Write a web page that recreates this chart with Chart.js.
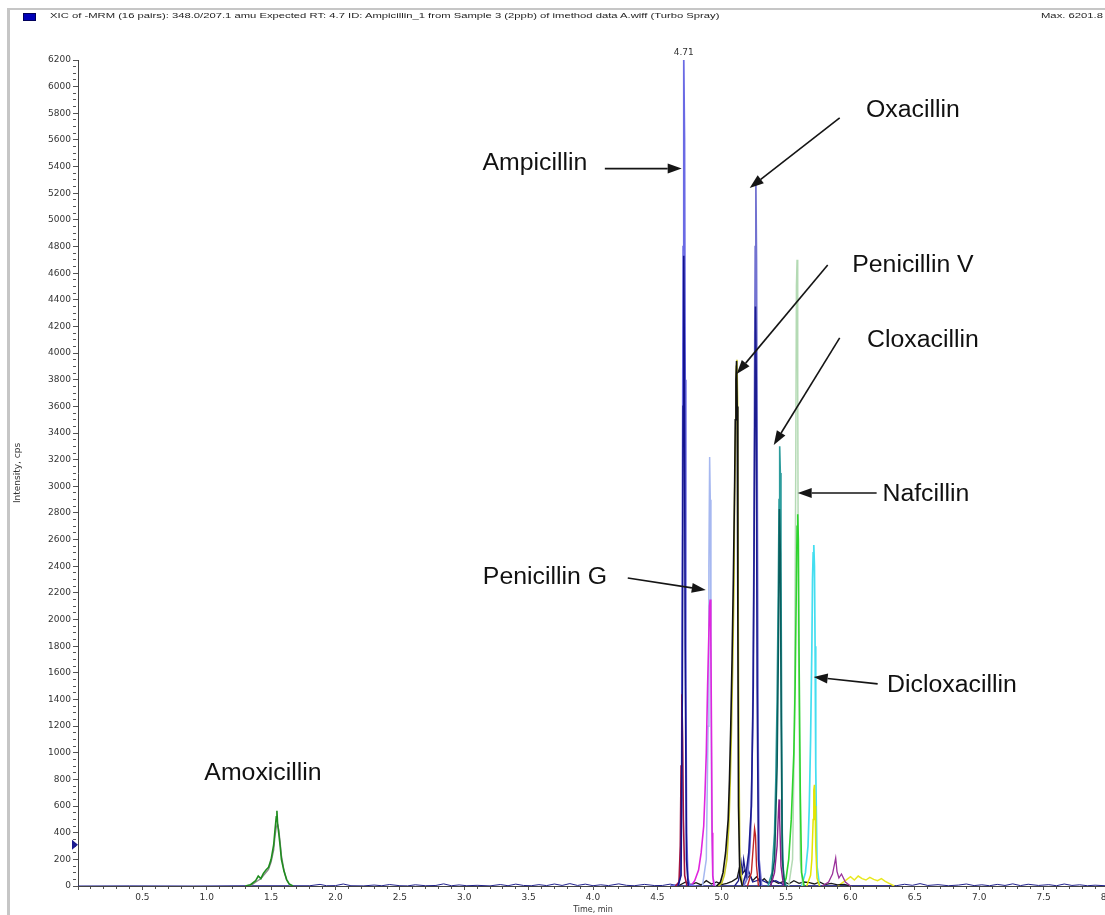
<!DOCTYPE html>
<html>
<head>
<meta charset="utf-8">
<script src="https://cdn.jsdelivr.net/npm/chart.js@4"></script>
<style>
  html, body { margin: 0; padding: 0; background: #fff; overflow: hidden; width: 1105px; height: 915px; }
  #wrap { position: relative; width: 1105px; height: 915px; overflow: hidden; }
  #chart { position: absolute; left: 0; top: 0; }
  .frameTop { position: absolute; left: 7px; top: 8px; width: 1098px; height: 2px; background: #c6c6c6; }
  .frameLeft { position: absolute; left: 7px; top: 8px; width: 3px; height: 907px; background: #c6c6c6; }
  .legendBox { position: absolute; left: 23px; top: 13px; width: 11px; height: 6px; background: #0000b8; border: 1px solid #00005a; }
  .head { position: absolute; top: 11px; font: 7.5px "Liberation Sans", Arial, sans-serif; color: #222; white-space: nowrap; transform: scaleX(1.5); transform-origin: left top; }
</style>
</head>
<body>
<div id="wrap">
  <canvas id="chart" width="1120" height="915"></canvas>
  <div class="frameTop"></div>
  <div class="frameLeft"></div>
  <div class="legendBox"></div>
  <div class="head" style="left:50px">XIC of -MRM (16 pairs): 348.0/207.1 amu Expected RT: 4.7 ID: Ampicillin_1 from Sample 3 (2ppb) of imethod data A.wiff (Turbo Spray)</div>
  <div class="head" style="left:1041px">Max. 6201.8 cps.</div>
</div>
<script>
// axis ranges
var xMin = 0, xMax = 8.0;
var yMin = 0, yMax = 6200;
var apexTime = 4.705;
var apexLabel = '4.71';
var markerValue = 310;

// --- traces (time in min, intensity in cps) ---
// Amoxicillin
var amoxGreenT = [1.30, 1.34, 1.38, 1.40, 1.42, 1.44, 1.46, 1.48, 1.50, 1.52, 1.53, 1.54, 1.545, 1.55, 1.56, 1.57, 1.58, 1.60, 1.62, 1.64, 1.67];
var amoxGreenY = [0, 10, 40, 75, 55, 95, 120, 140, 200, 310, 420, 520, 565, 470, 390, 300, 200, 110, 50, 15, 0];
var amoxGreyT = [1.30, 1.35, 1.39, 1.42, 1.45, 1.48, 1.50, 1.52, 1.53, 1.54, 1.55, 1.56, 1.57, 1.58, 1.60, 1.62, 1.65];
var amoxGreyY = [0, 8, 35, 55, 90, 125, 180, 270, 370, 440, 470, 420, 330, 230, 120, 45, 0];

// Ampicillin
var ampBlueT = [4.60, 4.665, 4.678, 4.688, 4.694, 4.700, 4.705, 4.711, 4.716, 4.721, 4.727, 4.737, 4.75, 4.80];
var ampBlueY = [0, 10, 80, 700, 2500, 4800, 6202, 5600, 3800, 1500, 400, 60, 10, 0];
var ampNavyT = [4.66, 4.684, 4.694, 4.700, 4.705, 4.710, 4.716, 4.726, 4.74];
var ampNavyY = [0, 80, 1500, 3600, 4730, 3900, 1800, 200, 0];
var ampRedT = [4.64, 4.668, 4.678, 4.684, 4.690, 4.696, 4.702, 4.712, 4.73];
var ampRedY = [0, 30, 300, 900, 1440, 1100, 500, 80, 0];

// Penicillin G
var penGMagT = [4.76, 4.79, 4.82, 4.84, 4.86, 4.87, 4.88, 4.89, 4.90, 4.905, 4.91, 4.915, 4.92, 4.925, 4.93, 4.94];
var penGMagY = [0, 40, 120, 250, 450, 700, 1000, 1500, 1900, 2100, 2150, 1900, 1200, 400, 80, 0];
var penGLightT = [4.85, 4.88, 4.894, 4.90, 4.906, 4.911, 4.916, 4.922, 4.932, 4.95];
var penGLightY = [0, 200, 1200, 2400, 3220, 2900, 1600, 500, 60, 0];

// Penicillin V
var penVBlackT = [4.96, 4.99, 5.01, 5.03, 5.05, 5.06, 5.07, 5.08, 5.09, 5.10, 5.105, 5.11, 5.115, 5.12, 5.125, 5.13, 5.14, 5.16];
var penVBlackY = [0, 30, 100, 250, 500, 800, 1200, 1700, 2300, 3000, 3500, 3800, 3940, 3600, 2000, 600, 80, 0];
var penVOliveT = [4.97, 5.00, 5.02, 5.04, 5.055, 5.065, 5.075, 5.085, 5.095, 5.10, 5.108, 5.113, 5.118, 5.123, 5.13, 5.14, 5.16];
var penVOliveY = [0, 20, 80, 200, 450, 750, 1150, 1650, 2250, 2950, 3450, 3900, 3950, 3650, 1500, 200, 0];

// Oxacillin
var oxaBlueT = [5.17, 5.20, 5.22, 5.23, 5.24, 5.25, 5.255, 5.26, 5.265, 5.27, 5.276, 5.282, 5.29, 5.31];
var oxaBlueY = [0, 60, 300, 600, 1200, 2500, 3800, 4800, 5285, 4700, 3000, 1200, 200, 0];
var oxaNavyT = [5.16, 5.19, 5.21, 5.23, 5.245, 5.255, 5.262, 5.268, 5.275, 5.285, 5.30];
var oxaNavyY = [0, 100, 250, 600, 1500, 3200, 4350, 3800, 1500, 200, 0];
var oxaRedT = [5.20, 5.23, 5.245, 5.255, 5.262, 5.27, 5.285];
var oxaRedY = [0, 100, 300, 430, 380, 150, 0];

// Cloxacillin
var cloxTealT = [5.36, 5.39, 5.41, 5.42, 5.43, 5.44, 5.445, 5.45, 5.455, 5.46, 5.465, 5.47, 5.48, 5.50];
var cloxTealY = [0, 100, 400, 800, 1400, 2300, 2900, 3300, 3100, 2400, 1300, 400, 60, 0];
var cloxDarkT = [5.38, 5.41, 5.43, 5.44, 5.448, 5.455, 5.462, 5.47, 5.49];
var cloxDarkY = [0, 200, 900, 1800, 2830, 2500, 1200, 200, 0];
var cloxPurpleT = [5.38, 5.41, 5.43, 5.44, 5.445, 5.45, 5.46, 5.48];
var cloxPurpleY = [0, 100, 300, 550, 650, 500, 150, 0];

// Nafcillin
var nafPaleT = [5.52, 5.55, 5.565, 5.575, 5.58, 5.585, 5.59, 5.595, 5.61, 5.63];
var nafPaleY = [0, 200, 1200, 3200, 4500, 4700, 3800, 2000, 200, 0];
var nafGreenT = [5.48, 5.50, 5.52, 5.54, 5.56, 5.57, 5.58, 5.585, 5.59, 5.595, 5.60, 5.61, 5.62, 5.64];
var nafGreenY = [0, 60, 200, 500, 1000, 1500, 2300, 2700, 2790, 2600, 1800, 700, 100, 0];

// Dicloxacillin
var dicloCyanT = [5.62, 5.65, 5.67, 5.68, 5.69, 5.70, 5.705, 5.71, 5.715, 5.72, 5.725, 5.73, 5.74, 5.76];
var dicloCyanY = [0, 100, 300, 600, 1100, 1800, 2300, 2500, 2560, 2400, 1800, 900, 150, 0];
var dicloYellowT = [5.66, 5.69, 5.70, 5.71, 5.715, 5.72, 5.725, 5.73, 5.74, 5.76];
var dicloYellowY = [0, 80, 200, 500, 720, 760, 600, 300, 60, 0];

// small stuff around the late peaks
var clutBlackT = [4.66, 4.72, 4.76, 4.80, 4.84, 4.88, 4.92, 4.96, 5.00, 5.04, 5.08, 5.12, 5.14, 5.16, 5.18, 5.20, 5.22, 5.24, 5.27, 5.30, 5.33, 5.36, 5.40, 5.44, 5.48, 5.52, 5.56, 5.60, 5.64, 5.68, 5.72, 5.76, 5.80, 5.85, 5.90, 5.95, 6.00];
var clutBlackY = [0, 30, 10, 25, 8, 40, 15, 30, 10, 20, 35, 60, 150, 90, 120, 60, 80, 40, 70, 30, 55, 25, 40, 20, 35, 15, 40, 20, 30, 25, 15, 30, 10, 20, 8, 12, 0];
var clutNavyT = [5.10, 5.13, 5.15, 5.16, 5.17, 5.19, 5.21, 5.24, 5.30, 5.36, 5.42, 5.50];
var clutNavyY = [0, 40, 180, 90, 200, 60, 110, 30, 50, 20, 40, 0];
var clutPurpleT = [5.78, 5.83, 5.86, 5.875, 5.885, 5.895, 5.91, 5.93, 5.96, 6.00];
var clutPurpleY = [0, 30, 90, 160, 210, 110, 60, 90, 30, 0];
var clutYellowT = [5.90, 5.96, 6.00, 6.03, 6.06, 6.09, 6.12, 6.15, 6.18, 6.21, 6.24, 6.27, 6.30, 6.34];
var clutYellowY = [0, 40, 70, 45, 75, 55, 45, 65, 50, 40, 55, 35, 20, 0];

// baseline noise
var noiseT = [0.00, 0.40, 0.90, 1.30, 1.80, 1.88, 1.93, 2.00, 2.06, 2.12, 2.22, 2.30, 2.36, 2.42, 2.50, 2.56, 2.62, 2.70, 2.78, 2.84,
  2.90, 2.96, 3.02, 3.10, 3.20, 3.28, 3.34, 3.40, 3.46, 3.52, 3.58, 3.64, 3.70, 3.76, 3.82, 3.88, 3.94, 4.00, 4.06, 4.12,
  4.20, 4.26, 4.32, 4.40, 4.48, 4.54, 4.60, 4.66, 6.36, 6.42, 6.48, 6.54, 6.60, 6.68, 6.76, 6.84, 6.90, 6.96, 7.02, 7.08,
  7.14, 7.20, 7.26, 7.32, 7.38, 7.46, 7.54, 7.60, 7.66, 7.72, 7.78, 7.84, 7.90, 8.00];
var noiseY = [0, 1, 0, 2, 2, 12, 2, 3, 15, 2, 1, 7, 2, 11, 2, 1, 9, 2, 4, 16,
  2, 8, 2, 5, 1, 11, 2, 14, 4, 2, 10, 3, 15, 4, 18, 4, 14, 2, 9, 3,
  16, 5, 2, 12, 3, 4, 14, 2, 3, 13, 5, 18, 4, 10, 2, 7, 15, 3, 9, 2,
  12, 4, 16, 3, 13, 4, 10, 2, 15, 4, 9, 2, 6, 1];

// --- annotations (data coordinates) ---
var noteText = ['Ampicillin', 'Oxacillin', 'Penicillin V', 'Cloxacillin', 'Nafcillin', 'Penicillin G', 'Dicloxacillin', 'Amoxicillin'];
var noteT = [3.549, 6.485, 6.485, 6.563, 6.586, 3.627, 6.788, 1.437];
var noteI = [5375, 5773, 4610, 4047, 2890, 2267, 1456, 796];
var arrowFromT = [4.092, 5.916, 5.823, 5.916, 6.203, 4.270, 6.211];
var arrowFromI = [5385, 5766, 4662, 4114, 2950, 2312, 1517];
var arrowToT = [4.689, 5.217, 5.116, 5.404, 5.590, 4.876, 5.714];
var arrowToI = [5385, 5240, 3844, 3311, 2950, 2222, 1569];

function pts(ts, ys) {
    var out = [];
    for (var k = 0; k < ts.length && k < ys.length; k++) {
        out.push({ x: ts[k], y: ys[k] });
    }
    return out;
}

// first in list is drawn on top: [times, values, colour, line width]
var traces = [
    [ampNavyT, ampNavyY, '#14148e', 1.6],
    [ampRedT, ampRedY, '#a3123f', 1.6],
    [ampBlueT, ampBlueY, '#6a6ae4', 1.7],
    [penGMagT, penGMagY, '#e026de', 1.6],
    [penGLightT, penGLightY, '#a6b8f0', 1.5],
    [penVBlackT, penVBlackY, '#111111', 1.6],
    [penVOliveT, penVOliveY, '#c8c828', 1.6],
    [oxaNavyT, oxaNavyY, '#1c1c90', 1.6],
    [oxaRedT, oxaRedY, '#c02424', 1.4],
    [oxaBlueT, oxaBlueY, '#7272d0', 1.7],
    [cloxPurpleT, cloxPurpleY, '#8c1e8c', 1.4],
    [cloxDarkT, cloxDarkY, '#0a5e5e', 1.6],
    [cloxTealT, cloxTealY, '#2c9c9c', 1.6],
    [nafGreenT, nafGreenY, '#2ed42e', 1.6],
    [nafPaleT, nafPaleY, '#b4dab4', 1.5],
    [dicloYellowT, dicloYellowY, '#e4e400', 1.5],
    [dicloCyanT, dicloCyanY, '#44def0', 1.7],
    [clutNavyT, clutNavyY, '#1a1a8a', 1.3],
    [clutPurpleT, clutPurpleY, '#9a309a', 1.3],
    [clutBlackT, clutBlackY, '#1a1a1a', 1.3],
    [clutYellowT, clutYellowY, '#e8e820', 1.5],
    [amoxGreenT, amoxGreenY, '#1f8c1f', 1.6],
    [amoxGreyT, amoxGreyY, '#8a8a8a', 1.3],
    [noiseT, noiseY, '#22228e', 1]
];

var datasets = traces.map(function (tr) {
    return {
        data: pts(tr[0], tr[1]),
        showLine: true,
        borderColor: tr[2],
        backgroundColor: tr[2],
        borderWidth: tr[3],
        pointRadius: 0,
        tension: 0
    };
});

function drawArrow(ctx, x1, y1, x2, y2) {
    var a = Math.atan2(y2 - y1, x2 - x1);
    var len = 14, half = 5;
    var bx = x2 - len * Math.cos(a), by = y2 - len * Math.sin(a);
    ctx.beginPath();
    ctx.moveTo(x1, y1);
    ctx.lineTo(bx, by);
    ctx.stroke();
    ctx.beginPath();
    ctx.moveTo(x2, y2);
    ctx.lineTo(bx + half * Math.sin(a), by - half * Math.cos(a));
    ctx.lineTo(bx - half * Math.sin(a), by + half * Math.cos(a));
    ctx.closePath();
    ctx.fill();
}

var notes = {
    id: 'notes',
    afterDraw: function (chart) {
        var ctx = chart.ctx, xs = chart.scales.x, ys = chart.scales.y;
        ctx.save();
        // labels
        ctx.fillStyle = '#111';
        ctx.font = '23px "Liberation Sans", Arial, sans-serif';
        ctx.textAlign = 'center';
        ctx.textBaseline = 'alphabetic';
        noteText.forEach(function (txt, k) {
            ctx.save();
            ctx.translate(xs.getPixelForValue(noteT[k]), ys.getPixelForValue(noteI[k]));
            ctx.scale(1.08, 1);
            ctx.fillText(txt, 0, 0);
            ctx.restore();
        });
        // arrows
        ctx.strokeStyle = '#151515';
        ctx.fillStyle = '#151515';
        ctx.lineWidth = 1.6;
        arrowFromT.forEach(function (t, k) {
            drawArrow(ctx,
                xs.getPixelForValue(t), ys.getPixelForValue(arrowFromI[k]),
                xs.getPixelForValue(arrowToT[k]), ys.getPixelForValue(arrowToI[k]));
        });
        // apex label
        ctx.fillStyle = '#333';
        ctx.font = '9px "DejaVu Sans", sans-serif';
        ctx.textBaseline = 'middle';
        ctx.fillText(apexLabel, xs.getPixelForValue(apexTime), chart.chartArea.top - 7);
        // little marker on the y axis
        var my = ys.getPixelForValue(markerValue), mx = chart.chartArea.left;
        ctx.fillStyle = '#1a1a90';
        ctx.beginPath();
        ctx.moveTo(mx - 6, my - 5);
        ctx.lineTo(mx, my);
        ctx.lineTo(mx - 6, my + 5);
        ctx.closePath();
        ctx.fill();
        ctx.restore();
    }
};

var tickFont = { family: 'DejaVu Sans', size: 9 };

// major ticks full length, minor ticks cut short with a dash
function xMajor(v) { var h = v * 2; return Math.abs(h - Math.round(h)) < 1e-6; }
function yMajor(v) { return Math.round(v) % 200 === 0; }

new Chart(document.getElementById('chart').getContext('2d'), {
    type: 'scatter',
    data: { datasets: datasets },
    options: {
        responsive: false,
        animation: false,
        layout: { padding: { left: 8, right: 12, top: 60, bottom: 0 } },
        plugins: { legend: { display: false }, tooltip: { enabled: false } },
        scales: {
            x: {
                type: 'linear',
                min: xMin,
                max: xMax,
                border: { color: '#444', width: 1 },
                grid: {
                    drawOnChartArea: false,
                    tickLength: 4,
                    color: '#555',
                    tickBorderDash: function (c) { return c.tick && xMajor(c.tick.value) ? [] : [2, 10]; }
                },
                ticks: {
                    stepSize: 0.1,
                    autoSkip: false,
                    maxRotation: 0,
                    padding: 2,
                    color: '#333',
                    font: tickFont,
                    callback: function (v) {
                        return v > 0 && xMajor(v) ? v.toFixed(1) : '';
                    }
                },
                title: { display: true, text: 'Time, min', color: '#333', font: { family: 'DejaVu Sans', size: 8 }, padding: { top: 0, bottom: 0 } },
                afterFit: function (s) { s.height = 29; }
            },
            y: {
                type: 'linear',
                min: yMin,
                max: yMax,
                border: { color: '#444', width: 1 },
                grid: {
                    drawOnChartArea: false,
                    tickLength: 5,
                    color: '#555',
                    tickBorderDash: function (c) { return c.tick && yMajor(c.tick.value) ? [] : [3, 10]; }
                },
                ticks: {
                    stepSize: 50,
                    autoSkip: false,
                    padding: 2,
                    color: '#333',
                    font: tickFont,
                    callback: function (v) {
                        return yMajor(v) ? String(Math.round(v)) : '';
                    }
                },
                title: { display: true, text: 'Intensity, cps', color: '#333', font: { family: 'DejaVu Sans', size: 9 }, padding: { top: 4, bottom: 4 } },
                afterFit: function (s) { s.width = 70; }
            }
        }
    },
    plugins: [notes]
});
</script>
</body>
</html>
